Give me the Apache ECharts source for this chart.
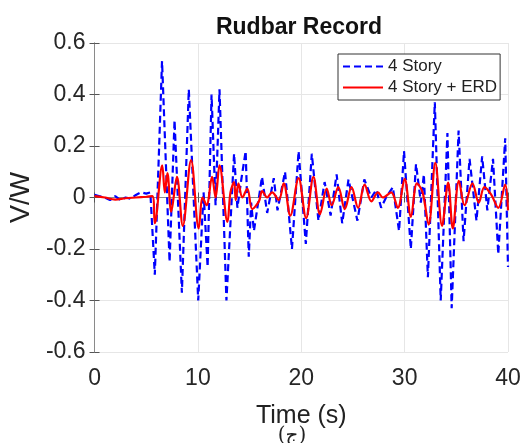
<!DOCTYPE html>
<html>
<head>
<meta charset="utf-8">
<style>
  html, body { margin: 0; padding: 0; background: #fff; }
  #chart { width: 526px; height: 443px; }
</style>
<script src="https://cdn.jsdelivr.net/npm/echarts@6/dist/echarts.min.js"></script>
</head>
<body>
<div id="chart"></div>
<script>
// 4 Story (blue dashed) - time (s) and V/W
const storyT = [0, 0.5, 1, 1.5, 2, 2.5, 3, 3.5, 4, 4.5, 5, 5.4,
    5.83, 6.53, 7.26, 7.74, 8.45, 9.12, 10.03, 10.55, 10.94, 11.32, 11.71, 12.09, 12.76,
    13.5, 13.82, 14.2, 14.62, 14.92, 15.15, 15.42, 16.2, 16.7, 17.34, 17.7,
    18.43, 19.1, 19.74, 20.44, 21.02, 21.66, 22.26, 22.84, 23.42, 23.96,
    24.57, 25.43, 26.1, 26.78, 27.26, 27.73, 28.2, 28.86, 29.46, 29.94,
    30.6, 31.1, 31.57, 31.86, 32.25, 32.92, 33.49, 34.14, 34.55, 35.22,
    35.7, 36.28, 36.95, 37.5, 38.0, 38.55, 39.06, 39.73, 40];
const storyV = [0.01, 0.005, 0, -0.01, 0.005, -0.01, 0, -0.005, 0.01, 0.02, 0.015, 0.02,
    -0.30, 0.53, -0.25, 0.30, -0.37, 0.42, -0.40, 0.02, -0.27, 0.40, -0.03, 0.42, -0.40,
    0.17, -0.04, 0.07, 0.18, -0.23, -0.02, -0.13, 0.08, -0.06, 0.075, -0.05,
    0.10, -0.20, 0.18, -0.18, 0.17, -0.09, 0.06, -0.07, 0.09, -0.10,
    0.07, -0.09, 0.07, 0.0, 0.03, -0.04, 0.0, 0.04, -0.13, 0.18,
    -0.20, 0.13, -0.02, 0.09, -0.31, 0.37, -0.40, 0.25, -0.43, 0.26,
    -0.17, 0.15, -0.09, 0.16, -0.05, 0.15, -0.22, 0.23, -0.27];

// 4 Story + ERD (red solid)
const erdT = [0, 1, 2, 3, 4, 5, 5.6,
    5.83, 6.55, 6.8, 7.05, 7.42, 7.97, 8.54, 9.34, 10.08, 10.46,
    10.84, 11.37, 11.71, 12.09, 12.86, 13.15, 13.5, 13.66, 13.92, 14.3,
    14.78, 15.26, 15.9, 16.22, 16.7, 17.18, 17.82, 18.3, 18.94, 19.74,
    20.47, 21.18, 21.81, 22.46, 22.94, 23.58, 24.21, 24.86, 25.5, 26.13,
    26.78, 27.42, 27.9, 28.7, 29.34, 30.0, 30.61, 31.19, 31.74, 32.32,
    32.97, 33.62, 34.21, 34.66, 35.25, 35.8, 36.56, 37.17, 37.72, 38.39,
    39.06, 39.73, 40];
const erdV = [0.005, 0, -0.008, -0.003, 0, 0.003, 0.005,
    -0.10, 0.125, 0.02, 0.095, -0.055, 0.08, -0.11, 0.145, -0.12, 0.0,
    -0.03, 0.08, 0.0, 0.125, -0.095, 0.02, 0.06, -0.01, 0.055, 0.0,
    0.035, -0.045, -0.015, 0.025, 0.0, 0.02, -0.01, 0.055, -0.07, 0.075,
    -0.08, 0.08, -0.065, 0.035, -0.03, 0.04, -0.045, 0.04, -0.04, 0.05,
    -0.015, 0.02, 0.0, 0.02, -0.04, 0.072, -0.075, 0.055, 0.02, -0.105,
    0.135, -0.11, 0.058, -0.12, 0.065, -0.03, 0.055, -0.02, 0.04, 0.01,
    -0.04, 0.05, -0.05];

const seriesNames = ['4 Story', '4 Story + ERD'];
const xTicks = { min: 0, max: 40, step: 10 };
const yTicks = { min: -0.6, max: 0.6, step: 0.2 };

const zip = (t, v) => t.map((x, i) => [x, v[i]]);

const FONT = 'Liberation Sans, Arial, sans-serif';
const axisGray = '#8a8a8a';

const chart = echarts.init(document.getElementById('chart'), null, { renderer: 'canvas' });

const option = {
    animation: false,
    backgroundColor: '#fff',
    grid: { left: 91, right: 18, top: 43, bottom: 91 },
    legend: {
        data: seriesNames,
        orient: 'vertical',
        left: 338,
        top: 54,
        itemWidth: 40,
        itemHeight: 14,
        itemGap: 4,
        padding: [4, 3, 4, 4],
        borderColor: '#333',
        borderWidth: 1,
        backgroundColor: '#fff',
        // hide the circle the line legend icon adds by default
        itemStyle: { opacity: 0 },
        textStyle: { fontFamily: FONT, fontSize: 17, color: '#222', padding: [0, 0, 0, 0] }
    },
    xAxis: [
        {
            type: 'value',
            min: xTicks.min, max: xTicks.max, interval: xTicks.step,
            name: 'Time (s)',
            nameLocation: 'middle',
            nameGap: 52,
            nameTextStyle: { fontFamily: FONT, fontSize: 25, color: '#222' },
            axisLine: { show: true, lineStyle: { color: axisGray } },
            axisTick: { show: true, inside: true, length: 5, lineStyle: { color: '#555' } },
            axisLabel: { fontFamily: FONT, fontSize: 23, color: '#262626', margin: 15 },
            splitLine: { show: true, lineStyle: { color: '#e6e6e6' } }
        },
        {
            type: 'value', position: 'top',
            min: xTicks.min, max: xTicks.max, interval: xTicks.step,
            axisLine: { show: true, lineStyle: { color: axisGray } },
            axisTick: { show: true, inside: true, length: 5, lineStyle: { color: '#555' } },
            axisLabel: { show: false },
            splitLine: { show: false }
        }
    ],
    yAxis: [
        {
            type: 'value',
            min: yTicks.min, max: yTicks.max, interval: yTicks.step,
            name: 'V/W',
            nameLocation: 'middle',
            nameGap: 56,
            nameTextStyle: { fontFamily: FONT, fontSize: 27, color: '#222' },
            axisLine: { show: true, lineStyle: { color: axisGray } },
            axisTick: { show: true, inside: true, length: 5, lineStyle: { color: '#555' } },
            axisLabel: {
                fontFamily: FONT, fontSize: 23, color: '#262626', margin: 9,
                formatter: v => String(Math.round(v * 10) / 10)
            },
            splitLine: { show: true, lineStyle: { color: '#e6e6e6' } }
        },
        {
            type: 'value', position: 'right',
            min: yTicks.min, max: yTicks.max, interval: yTicks.step,
            axisLine: { show: true, lineStyle: { color: axisGray } },
            axisTick: { show: true, inside: true, length: 5, lineStyle: { color: '#555' } },
            axisLabel: { show: false },
            splitLine: { show: false }
        }
    ],
    series: [
        {
            name: seriesNames[0],
            type: 'line',
            data: zip(storyT, storyV),
            symbol: 'none',
            color: '#0000ff',
            lineStyle: { color: '#0000ff', width: 2.2, type: [7, 4] },
            z: 2
        },
        {
            name: seriesNames[1],
            type: 'line',
            data: zip(erdT, erdV),
            symbol: 'none',
            smooth: 0.35,
            color: '#ff0000',
            lineStyle: { color: '#ff0000', width: 2.2 },
            z: 3
        }
    ],
    graphic: [
        {
            type: 'text', x: 299, y: 28, z: 10,
            style: {
                text: 'Rudbar Record', fill: '#111',
                font: 'bold 23px Liberation Sans, Arial, sans-serif',
                textAlign: 'center', textVerticalAlign: 'middle'
            }
        },
        {
            type: 'text', x: 292, y: 436, z: 10,
            style: {
                text: '(ج)', fill: '#222',
                font: '20px DejaVu Serif, DejaVu Sans, serif',
                textAlign: 'center', textVerticalAlign: 'middle'
            }
        }
    ]
};

chart.setOption(option);
</script>
</body>
</html>
